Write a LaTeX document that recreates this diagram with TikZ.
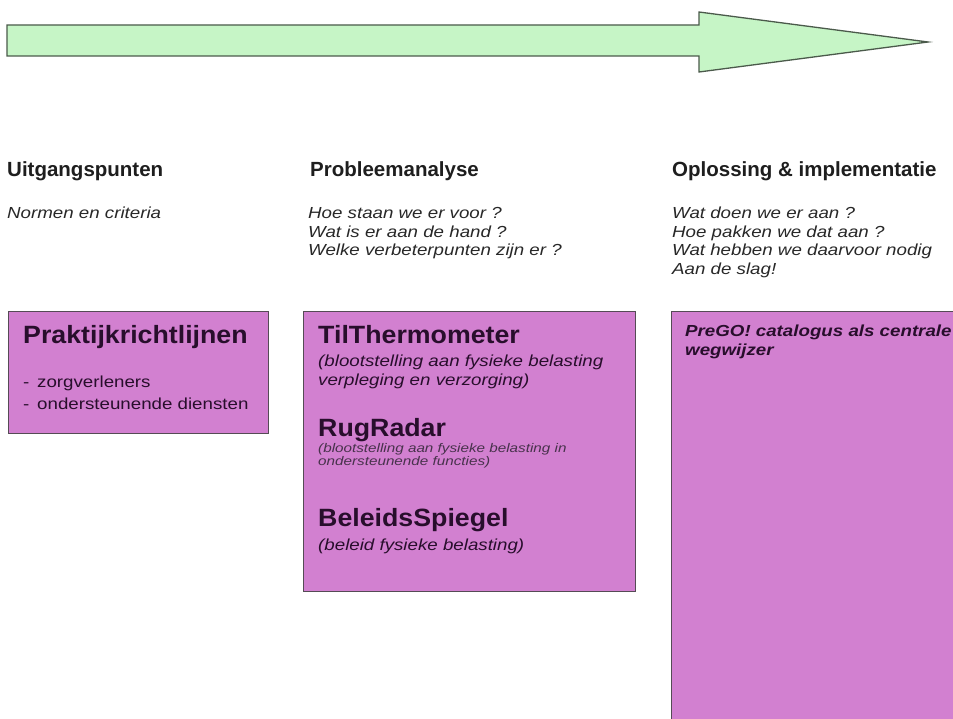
\documentclass[tikz,border=0pt]{standalone}
\usepackage{fontspec}
\setmainfont{Liberation Sans}
\newfontfamily\wfont{Liberation Sans}[FakeStretch=1.17]
\newfontfamily\bfont{Liberation Sans}[FakeStretch=1.07]
\newfontfamily\sfont{Liberation Sans}[FakeStretch=1.22]
\definecolor{arrowfill}{RGB}{198,245,198}
\definecolor{arrowline}{RGB}{75,90,75}
\definecolor{boxfill}{RGB}{210,128,208}
\definecolor{boxline}{RGB}{85,75,85}
\definecolor{boxtext}{RGB}{40,14,44}
\definecolor{headc}{RGB}{30,30,30}
\definecolor{qc}{RGB}{40,40,40}
\tikzset{
  purplebox/.style={draw=boxline, line width=1.3pt, fill=boxfill, anchor=north west, inner sep=0pt},
  headtxt/.style={anchor=base west, inner sep=0pt, text=headc, font=\fontsize{20.5}{24}\selectfont\bfseries},
  qtxt/.style={anchor=base west, inner sep=0pt, text=qc, font=\wfont\fontsize{16}{19}\selectfont\itshape},
  bigtxt/.style={anchor=base west, inner sep=0pt, text=boxtext, font=\bfont\fontsize{25}{29}\selectfont\bfseries},
  subtxt/.style={anchor=base west, inner sep=0pt, text=boxtext, font=\wfont\fontsize{16}{19}\selectfont\itshape},
  regtxt/.style={anchor=base west, inner sep=0pt, text=boxtext, font=\wfont\fontsize{16}{19}\selectfont},
  smalltxt/.style={anchor=base west, inner sep=0pt, text=boxtext!85, font=\sfont\fontsize{12.5}{14}\selectfont\itshape},
  bitxt/.style={anchor=base west, inner sep=0pt, text=boxtext, font=\wfont\fontsize{16}{19}\selectfont\bfseries\itshape},
}
\begin{document}
\begin{tikzpicture}[x=1pt,y=-1pt]
\useasboundingbox[fill=white] (0,0) rectangle (953,719);
\clip (0,0) rectangle (953,719);
% timeline arrow
\draw[fill=arrowfill, draw=arrowline, line width=1.3pt, line join=miter]
  (7,25) -- (699,25) -- (699,12) -- (928,42) -- (699,72) -- (699,56) -- (7,56) -- cycle;
% column headings
\node[headtxt] (h1) at (7,177) {Uitgangspunten};
\node[headtxt] (h2) at (310,177) {Probleemanalyse};
\node[headtxt] (h3) at (672,177) {Oplossing \& implementatie};
% questions
\node[qtxt] (q11) at (7,219) {Normen en criteria};
\node[qtxt] (q21) at (308,219) {Hoe staan we er voor ?};
\node[qtxt] (q22) at (308,237.5) {Wat is er aan de hand ?};
\node[qtxt] (q23) at (308,256) {Welke verbeterpunten zijn er ?};
\node[qtxt] (q31) at (672,219) {Wat doen we er aan ?};
\node[qtxt] (q32) at (672,237.5) {Hoe pakken we dat aan ?};
\node[qtxt] (q33) at (672,256) {Wat hebben we daarvoor nodig};
\node[qtxt] (q34) at (672,274.5) {Aan de slag!};
% boxes
\node[purplebox, minimum width=260pt, minimum height=122pt] (b1) at (8,311) {};
\node[purplebox, minimum width=332pt, minimum height=280pt] (b2) at (303,311) {};
\node[purplebox, minimum width=300pt, minimum height=430pt] (b3) at (671,311) {};
% box 1
\node[bigtxt] (p1) at (23,343) {Praktijkrichtlijnen};
\node[regtxt] (p1d1) at (23,387) {-};
\node[regtxt] (p1a) at (37,387) {zorgverleners};
\node[regtxt] (p1d2) at (23,409) {-};
\node[regtxt] (p1b) at (37,409) {ondersteunende diensten};
% box 2
\node[bigtxt] (t1) at (318,343) {TilThermometer};
\node[subtxt] (t1a) at (318,366) {(blootstelling aan fysieke belasting};
\node[subtxt] (t1b) at (318,385) {verpleging en verzorging)};
\node[bigtxt] (t2) at (318,436) {RugRadar};
\node[smalltxt] (t2a) at (318,452) {(blootstelling aan fysieke belasting in};
\node[smalltxt] (t2b) at (318,465.5) {ondersteunende functies)};
\node[bigtxt] (t3) at (318,526) {BeleidsSpiegel};
\node[subtxt] (t3a) at (318,550) {(beleid fysieke belasting)};
% box 3
\node[bitxt] (g1) at (685,336) {PreGO! catalogus als centrale};
\node[bitxt] (g2) at (685,355) {wegwijzer};
\end{tikzpicture}
\end{document}
